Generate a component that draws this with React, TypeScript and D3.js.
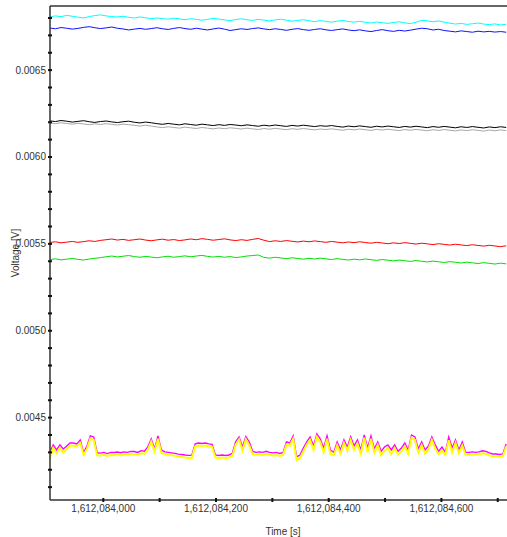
import React from "react";
import * as d3 from "d3";

const T0 = 1612083905;
const STEP_TOP = 10;
const STEP_BOTTOM = 6;

// values in microvolts
const cyanUV = [
  6806, 6812, 6808, 6815, 6810, 6805, 6800, 6808, 6814, 6818,
  6812, 6808, 6806, 6810, 6804, 6800, 6806, 6801, 6796, 6800,
  6797, 6793, 6799, 6795, 6790, 6796, 6792, 6787, 6792, 6798,
  6794, 6789, 6785, 6791, 6795, 6790, 6786, 6792, 6788, 6783,
  6789, 6793, 6787, 6782, 6786, 6790, 6784, 6779, 6785, 6781,
  6776, 6782, 6786, 6780, 6776, 6781, 6775, 6771, 6777, 6773,
  6769, 6774, 6778, 6772, 6768, 6776, 6786, 6784, 6778, 6783,
  6776, 6770, 6765, 6769, 6763, 6767, 6771, 6765, 6762, 6766,
  6760, 6764,
];
const blueUV = [
  6742, 6738, 6745, 6741, 6736, 6740, 6746, 6750, 6744, 6739,
  6743, 6748, 6741, 6737, 6731, 6736, 6740, 6735, 6739, 6744,
  6738, 6734, 6740, 6745, 6739, 6735, 6741, 6736, 6731, 6737,
  6742, 6736, 6728, 6733, 6738, 6734, 6739, 6743, 6737, 6733,
  6738, 6734, 6729, 6735, 6739, 6733, 6729, 6734, 6738, 6732,
  6728, 6733, 6737, 6731, 6727, 6732, 6726, 6722, 6728, 6733,
  6727, 6723, 6729, 6725, 6730, 6736, 6741, 6738, 6731, 6735,
  6728, 6724, 6720, 6726, 6722, 6718, 6724, 6720, 6723, 6719,
  6722, 6718,
];
const blackUV = [
  6208, 6204, 6210, 6206, 6201, 6205, 6209, 6203, 6199, 6204,
  6207, 6202, 6198, 6203, 6206, 6200, 6196, 6201, 6197, 6192,
  6188, 6193, 6189, 6185, 6191, 6187, 6183, 6189, 6185, 6181,
  6186, 6182, 6187, 6184, 6180, 6185, 6181, 6177, 6183, 6179,
  6184, 6180, 6176, 6182, 6178, 6183, 6179, 6175, 6180, 6177,
  6181, 6176, 6172, 6178, 6174, 6179, 6175, 6171, 6177, 6173,
  6178, 6174, 6170, 6176, 6172, 6177, 6173, 6169, 6175, 6171,
  6176, 6172, 6168, 6174, 6170, 6175, 6171, 6167, 6173, 6169,
  6174, 6170,
];
const grayUV = [
  6196, 6192, 6197, 6193, 6189, 6194, 6190, 6186, 6191, 6187,
  6192, 6188, 6184, 6189, 6186, 6182, 6178, 6183, 6178, 6173,
  6169, 6174, 6170, 6166, 6172, 6168, 6164, 6170, 6166, 6162,
  6167, 6163, 6168, 6165, 6161, 6166, 6162, 6158, 6164, 6160,
  6165, 6161, 6157, 6163, 6159, 6164, 6160, 6156, 6161, 6158,
  6162, 6158, 6154, 6160, 6156, 6161, 6157, 6153, 6159, 6155,
  6160, 6156, 6152, 6158, 6154, 6159, 6155, 6151, 6157, 6153,
  6158, 6154, 6150, 6156, 6152, 6157, 6153, 6149, 6155, 6151,
  6156, 6152,
];
const redUV = [
  5508, 5512, 5506, 5510, 5514, 5509, 5513, 5518, 5514, 5520,
  5524, 5528, 5522, 5526, 5520, 5524, 5528, 5522, 5518, 5523,
  5527, 5521, 5525, 5519, 5523, 5528, 5524, 5530, 5526, 5521,
  5525, 5529, 5523, 5519, 5524, 5520, 5526, 5531, 5521, 5513,
  5518, 5514, 5519, 5515, 5511, 5516, 5512, 5517, 5513, 5509,
  5514, 5510, 5506, 5511, 5507, 5512, 5508, 5504, 5509, 5505,
  5501, 5506, 5502, 5507, 5503, 5499, 5504, 5500, 5496, 5501,
  5497, 5493, 5498, 5494, 5490, 5495, 5491, 5487, 5492, 5488,
  5484, 5489,
];
const greenUV = [
  5410, 5414, 5408, 5412, 5416, 5411, 5407, 5413, 5417, 5421,
  5426, 5430, 5425, 5429, 5433, 5427, 5423, 5428, 5424, 5420,
  5425, 5429, 5423, 5427, 5431, 5426, 5430, 5434, 5428, 5424,
  5428, 5423, 5427, 5421, 5425, 5430, 5433, 5436, 5422, 5418,
  5423, 5419, 5415, 5420, 5416, 5412, 5417, 5413, 5418, 5414,
  5410, 5415, 5411, 5407, 5412, 5408, 5413, 5409, 5405, 5410,
  5406, 5402, 5407, 5403, 5399, 5404, 5400, 5396, 5401, 5397,
  5393, 5398, 5394, 5390, 5395, 5391, 5387, 5392, 5388, 5384,
  5389, 5385,
];
const magentaUV = [
  4300, 4343, 4314, 4343, 4320, 4337, 4354, 4354, 4349, 4372,
  4298, 4337, 4395, 4389, 4298, 4296, 4300, 4293, 4300, 4299,
  4302, 4298, 4303, 4300, 4306, 4305, 4300, 4310, 4307, 4331,
  4377, 4320, 4395, 4314, 4303, 4300, 4297, 4294, 4290, 4288,
  4285, 4283, 4283, 4349, 4354, 4351, 4354, 4349, 4346, 4285,
  4282, 4285, 4282, 4285, 4295, 4362, 4389, 4331, 4391, 4360,
  4306, 4300, 4303, 4300, 4306, 4300, 4297, 4300, 4294, 4300,
  4360, 4354, 4395, 4274, 4285, 4325, 4360, 4389, 4337, 4406,
  4377, 4325, 4395, 4314, 4300, 4360, 4314, 4372, 4331, 4389,
  4337, 4372, 4314, 4400, 4325, 4395, 4320, 4360, 4306, 4331,
  4343, 4314, 4343, 4306, 4325, 4354, 4314, 4400, 4389, 4320,
  4360, 4314, 4337, 4389, 4343, 4306, 4331, 4300, 4389, 4325,
  4372, 4314, 4360, 4300, 4300, 4303, 4300, 4303, 4309, 4306,
  4297, 4291, 4291, 4288, 4291, 4349,
];
const yellowUV = [
  4260, 4325, 4295, 4325, 4300, 4320, 4340, 4338, 4335, 4355,
  4285, 4320, 4380, 4372, 4283, 4282, 4286, 4280, 4285, 4284,
  4288, 4283, 4289, 4286, 4292, 4290, 4286, 4295, 4292, 4315,
  4362, 4305, 4378, 4298, 4289, 4285, 4283, 4280, 4276, 4273,
  4270, 4268, 4268, 4335, 4340, 4337, 4340, 4335, 4332, 4270,
  4266, 4270, 4266, 4270, 4280, 4345, 4375, 4310, 4375, 4340,
  4290, 4286, 4289, 4285, 4291, 4286, 4282, 4285, 4280, 4286,
  4345, 4338, 4378, 4255, 4268, 4305, 4345, 4372, 4315, 4390,
  4360, 4300, 4378, 4290, 4285, 4342, 4292, 4355, 4310, 4372,
  4315, 4352, 4290, 4385, 4300, 4378, 4298, 4342, 4285, 4310,
  4325, 4290, 4325, 4288, 4305, 4335, 4292, 4385, 4372, 4298,
  4342, 4292, 4318, 4372, 4322, 4290, 4312, 4285, 4370, 4300,
  4355, 4295, 4340, 4286, 4286, 4289, 4286, 4289, 4295, 4292,
  4283, 4277, 4277, 4274, 4277, 4335,
];

const yMajorTicks = [0.0045, 0.005, 0.0055, 0.006, 0.0065];
const xMajorTicks = [1612084000, 1612084200, 1612084400, 1612084600];

const W = 507;
const H = 537;
const LEFT = 50;
const RIGHT = 507;
const TOP = 6;
const BOTTOM = 500;

export default function App() {
  const x = d3.scaleLinear().domain([1612083905.4, 1612084716.4]).range([LEFT, RIGHT]);
  const y = d3.scaleLinear().domain([0.004026, 0.006869]).range([BOTTOM, TOP]);

  const mk = (vals: number[], step: number) =>
    vals.map((v, i) => [T0 + step * i, v / 1e6] as [number, number]);

  const line = d3
    .line<[number, number]>()
    .x((d) => x(d[0]))
    .y((d) => y(d[1]));

  const series = [
    { data: mk(grayUV, STEP_TOP), color: "#a8a8a8", w: 1 },
    { data: mk(blackUV, STEP_TOP), color: "#000000", w: 1 },
    { data: mk(blueUV, STEP_TOP), color: "#1010ff", w: 1 },
    { data: mk(cyanUV, STEP_TOP), color: "#00ffff", w: 1 },
    { data: mk(greenUV, STEP_TOP), color: "#00e000", w: 1 },
    { data: mk(redUV, STEP_TOP), color: "#ff0000", w: 1 },
    { data: mk(magentaUV, STEP_BOTTOM), color: "#ff00ff", w: 1.4 },
    { data: mk(yellowUV, STEP_BOTTOM), color: "#ffff00", w: 2 },
  ];

  const yMinor = d3.range(41, 69).map((k) => k / 10000);
  const xMinor = d3.range(1612083900, 1612084720, 100).filter((t) => x(t) >= LEFT && x(t) <= RIGHT);

  const fmtX = d3.format(",");
  const fmtY = d3.format(".4f");
  const font = "'Liberation Sans', Arial, sans-serif";
  const axisColor = "#333333";

  return (
    <svg
      width={W}
      height={H}
      style={{ position: "absolute", left: 0, top: 0, background: "#ffffff" }}
      fontFamily={font}
    >
      <defs>
        <clipPath id="plot">
          <rect x={LEFT} y={TOP} width={RIGHT - LEFT} height={BOTTOM - TOP} />
        </clipPath>
      </defs>
      <g clipPath="url(#plot)">
        {series.map((s, i) => (
          <path
            key={i}
            d={line(s.data) || ""}
            fill="none"
            stroke={s.color}
            strokeWidth={s.w}
            strokeLinejoin="miter"
          />
        ))}
      </g>
      {/* frame */}
      <line x1={LEFT} x2={RIGHT} y1={TOP} y2={TOP} stroke={axisColor} strokeWidth={1.5} />
      <line x1={LEFT} x2={LEFT} y1={TOP} y2={BOTTOM} stroke={axisColor} strokeWidth={1.5} />
      <line x1={LEFT} x2={RIGHT} y1={BOTTOM} y2={BOTTOM} stroke={axisColor} strokeWidth={1.5} />
      {/* y ticks */}
      {yMinor.map((v, i) => (
        <rect key={i} x={LEFT - 2} y={y(v) - 1} width={4} height={2} fill="#111" />
      ))}
      {yMajorTicks.map((v, i) => (
        <text
          key={i}
          x={LEFT - 4}
          y={y(v)}
          dy="0.35em"
          textAnchor="end"
          fontSize={10}
          fill={axisColor}
        >
          {fmtY(v)}
        </text>
      ))}
      {/* x ticks */}
      {xMinor.map((t, i) => (
        <rect key={i} x={x(t) - 1} y={BOTTOM - 2} width={2} height={4} fill="#111" />
      ))}
      {xMajorTicks.map((t, i) => (
        <text key={i} x={x(t)} y={512} textAnchor="middle" fontSize={10} fill={axisColor}>
          {fmtX(t)}
        </text>
      ))}
      <text x={283} y={535} textAnchor="middle" fontSize={10} fill={axisColor}>
        Time [s]
      </text>
      <text
        transform={`translate(19, 253) rotate(-90)`}
        textAnchor="middle"
        fontSize={10}
        fill={axisColor}
      >
        Voltage [V]
      </text>
    </svg>
  );
}
